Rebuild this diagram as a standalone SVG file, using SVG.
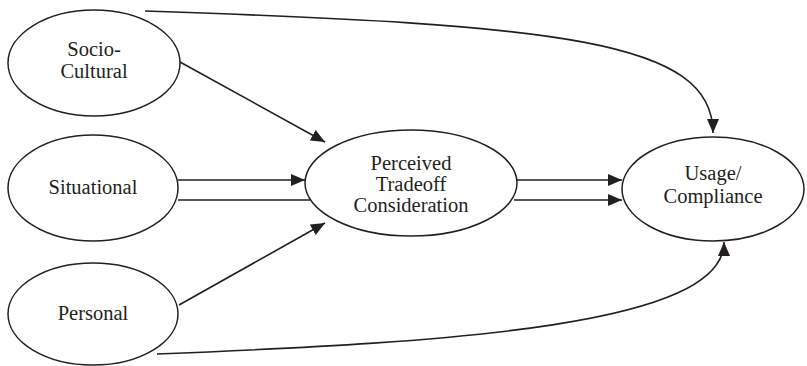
<svg xmlns="http://www.w3.org/2000/svg" width="807" height="366" viewBox="0 0 807 366" font-family="'Liberation Serif', 'Times New Roman', Times, serif">
<style>
.n ellipse{fill:#fff;stroke:#231f20;stroke-width:1.5}
.n text{font-family:'Liberation Serif','Times New Roman',Times,serif;font-size:20.5px;fill:#231f20;text-anchor:middle}
.c path,.c line{fill:none;stroke:#231f20;stroke-width:1.6}
</style>
<defs>
<marker id="ah" viewBox="0 0 14 12" refX="14" refY="6" markerWidth="14" markerHeight="12" markerUnits="userSpaceOnUse" orient="auto">
<path d="M0,0 L14,6 L0,12 Z" fill="#231f20"/>
</marker>
</defs>
<g class="c" id="connectors">
<path d="M145,11 C 560,25 713,40 713,133" marker-end="url(#ah)"/>
<line x1="180" y1="62" x2="325" y2="142" marker-end="url(#ah)"/>
<line x1="178" y1="180" x2="305" y2="180" marker-end="url(#ah)"/>
<line x1="178" y1="200" x2="310" y2="200"/>
<line x1="179" y1="305" x2="325" y2="223" marker-end="url(#ah)"/>
<line x1="517" y1="180" x2="622" y2="180" marker-end="url(#ah)"/>
<line x1="514" y1="200" x2="622" y2="200" marker-end="url(#ah)"/>
<path d="M157,354 C 460,342 724,325 724,242" marker-end="url(#ah)"/>
</g>
<g class="n" id="socio-cultural">
<ellipse cx="94" cy="63" rx="86" ry="53"/>
<text x="94" y="56">Socio-</text>
<text x="94" y="78">Cultural</text>
</g>
<g class="n" id="situational">
<ellipse cx="93" cy="188" rx="85" ry="53"/>
<text x="93" y="194">Situational</text>
</g>
<g class="n" id="personal">
<ellipse cx="93" cy="314" rx="85" ry="51"/>
<text x="93" y="320">Personal</text>
</g>
<g class="n" id="perceived">
<ellipse cx="411" cy="183" rx="106" ry="53"/>
<text x="411" y="170">Perceived</text>
<text x="411" y="191">Tradeoff</text>
<text x="411" y="212">Consideration</text>
</g>
<g class="n" id="usage">
<ellipse cx="713" cy="189" rx="91" ry="52"/>
<text x="713" y="180">Usage/</text>
<text x="713" y="203">Compliance</text>
</g>
</svg>
